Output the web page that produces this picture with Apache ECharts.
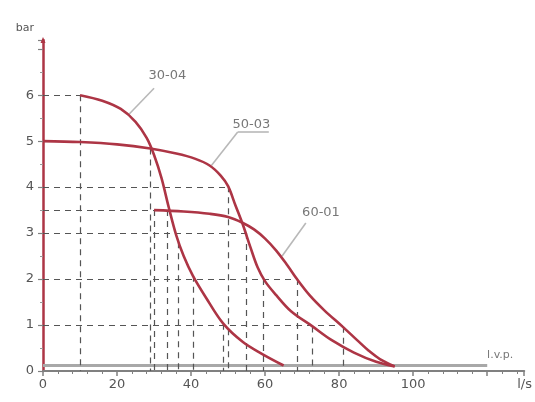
<!DOCTYPE html>
<html>
<head>
<meta charset="utf-8">
<script src="https://cdn.jsdelivr.net/npm/echarts@6/dist/echarts.min.js"></script>
<style>html,body{margin:0;padding:0;background:#fff}#c{width:535px;height:402px}</style>
</head>
<body>
<div id="c"></div>
<script>
// ---- data (x in l/s, y in bar) ----
const curve3004 = [[10,6.0],[16,5.88],[21,5.7],[25,5.42],[28,5.07],[30,4.7],[32,4.2],[34,3.55],[36,2.95],[38,2.5],[40.5,2.07],[44,1.6],[48.7,1.03],[54,0.63],[59,0.38],[65,0.12]];
const curve5003 = [[0,5.0],[10,4.98],[20,4.93],[29,4.84],[36,4.73],[41,4.62],[45,4.47],[48,4.25],[50,4.02],[52,3.6],[54,3.18],[56,2.7],[58,2.25],[60,1.95],[63,1.65],[67,1.3],[72.8,0.97],[78,0.67],[84,0.4],[90,0.2],[95,0.1]];
const curve6001 = [[30,3.5],[38,3.47],[45,3.42],[50,3.35],[54,3.22],[57,3.08],[60,2.88],[63,2.62],[66,2.3],[68.6,2.0],[72,1.65],[76,1.32],[81,0.96],[85,0.66],[88,0.44],[91,0.26],[95,0.1]];
const curveNames = ['30-04','50-03','60-01'];
const lvpLine = [[0,0.12],[120,0.12]];
const lvpName = 'l.v.p.';
// vertical drop lines: x and top value
const dropX    = [10, 29.1, 30, 33.6, 36.5, 40.5, 48.7, 50, 54.8, 59.5, 68.6, 72.8, 81];
const dropXTop = [6, 4.84, 3.5, 3.5, 2.8, 2.07, 1.03, 4.02, 3.0, 2.0, 2.0, 0.97, 0.96];
// horizontal drop lines: y and right end
const dropY    = [6, 4, 3.5, 3, 2, 1];
const dropYEnd = [10, 50, 30, 54.8, 68.6, 81];
// annotation label anchors [text pos], leader from/to
const annText  = [[33.6,6.42],[56.3,5.37],[75.1,3.45]];
const annFrom  = [[30.0,6.15],[52.6,5.2],[71.0,3.22]];
const annTo    = [[23.3,5.59],[45.5,4.47],[64.6,2.5]];
const xTicks = [0,20,40,60,80,100];
const yTicks = [0,1,2,3,4,5,6];

const RED = '#ad3545';
const GRAY = '#555';
const FONT = 'DejaVu Sans';

const chart = echarts.init(document.getElementById('c'), null, {renderer:'canvas'});

const dashLines = [];
dropX.forEach((x,i)=>dashLines.push([{coord:[x,dropXTop[i]]},{coord:[x,0]}]));
dropY.forEach((y,i)=>dashLines.push([{coord:[0,y]},{coord:[dropYEnd[i],y]}]));

const leaders = annFrom.map((p,i)=>[{coord:p},{coord:annTo[i]}]);
// underline under 50-03
leaders.push([{coord:[52.6,5.2]},{coord:[61,5.2]}]);

const curveSeries = [curve3004, curve5003, curve6001].map((d,i)=>({
  name: curveNames[i], type:'line', data:d, smooth:0.35, symbol:'none',
  lineStyle:{color:RED, width:2.6}, z:5
}));

chart.setOption({
  animation:false,
  grid:{left:43, right:1, top:40, bottom:31, containLabel:false},
  xAxis:{
    type:'value', min:0, max:130, interval:20,
    name:'l/s', nameLocation:'end', nameGap:-7,
    nameTextStyle:{color:GRAY, fontSize:13, fontFamily:FONT, align:'left', verticalAlign:'top', padding:[7,0,0,0]},
    axisLine:{lineStyle:{color:'#808080', width:2}},
    axisTick:{show:true, length:5, lineStyle:{color:'#808080', width:1.5}},
    minorTick:{show:true, splitNumber:5, length:3, lineStyle:{color:'#808080', width:1}},
    splitLine:{show:false},
    axisLabel:{color:GRAY, fontSize:13, fontFamily:FONT, margin:7,
      formatter:v=> xTicks.indexOf(v)>=0 ? String(v) : ''}
  },
  yAxis:{
    type:'value', min:0, max:7.2, interval:1,
    name:'bar', nameLocation:'end', nameGap:6,
    nameTextStyle:{color:GRAY, fontSize:11, fontFamily:FONT, align:'right', padding:[0,9,0,0]},
    axisLine:{lineStyle:{color:RED, width:2.5}, symbol:['none','triangle'], symbolSize:[5,6]},
    axisTick:{show:true, length:5, lineStyle:{color:'#808080', width:1.2}},
    minorTick:{show:true, splitNumber:2, length:3, lineStyle:{color:'#999', width:1}},
    splitLine:{show:false},
    axisLabel:{color:GRAY, fontSize:13, fontFamily:FONT, margin:9, showMaxLabel:false,
      formatter:v=> yTicks.indexOf(v)>=0 ? String(v) : ''}
  },
  series:[
    {
      name:'guides', type:'line', data:[], symbol:'none', silent:true,
      markLine:{symbol:['none','none'], silent:true, animation:false,
        lineStyle:{color:'#555', type:[6,5], width:1.2}, label:{show:false},
        data: dashLines}
    },
    {
      name:'lvp', type:'line', data:lvpLine, symbol:'none', z:3,
      lineStyle:{color:'#a8a8a8', width:3},
      label:{show:false}
    },
    {
      name:'lvpLabel', type:'scatter', symbolSize:0,
      data:[{value:[123.5,0.12]}],
      label:{show:true, position:'top', distance:5, formatter:lvpName, color:GRAY, fontSize:11, fontFamily:FONT}
    },
    ...curveSeries,
    {
      name:'leaders', type:'line', data:[], symbol:'none', silent:true,
      markLine:{symbol:['none','none'], silent:true, animation:false,
        lineStyle:{color:'#b8b8b8', type:'solid', width:1.6}, label:{show:false},
        data: leaders}
    },
    {
      name:'annotations', type:'scatter', symbolSize:0,
      data: annText.map((p,i)=>({value:p, name:curveNames[i]})),
      label:{show:true, position:'inside', formatter:p=>p.name, color:GRAY, fontSize:13, fontFamily:FONT}
    }
  ]
});
</script>
</body>
</html>
